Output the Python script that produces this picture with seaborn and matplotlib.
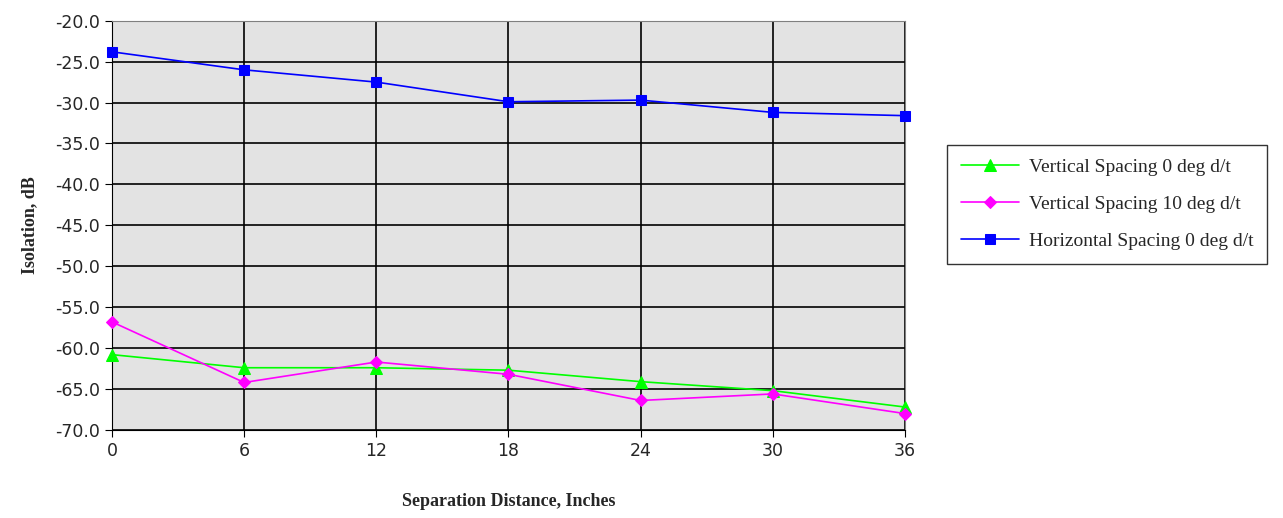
import seaborn as sns
import matplotlib.pyplot as plt
import pandas as pd

distance = [0, 6, 12, 18, 24, 30, 36]
vert_0 = [-60.8, -62.4, -62.4, -62.7, -64.1, -65.2, -67.2]
vert_10 = [-56.8, -64.2, -61.7, -63.2, -66.4, -65.6, -68.0]
horiz_0 = [-23.8, -26.0, -27.5, -29.9, -29.7, -31.2, -31.6]
series_names = ["Vertical Spacing 0 deg d/t", "Vertical Spacing 10 deg d/t",
                "Horizontal Spacing 0 deg d/t"]
y_ticks = [-20, -25, -30, -35, -40, -45, -50, -55, -60, -65, -70]

sns.set_style("white")

fig = plt.figure(figsize=(12.83, 5.18), dpi=100)
ax = fig.add_axes([0.0873, 0.170, 0.618, 0.790])
ax.set_facecolor("#e3e3e3")

styles = [("#00ff00", "^", 8), ("#ff00ff", "D", 6), ("#0000ff", "s", 7)]
for name, vals, (col, mk, ms) in zip(series_names, [vert_0, vert_10, horiz_0], styles):
    df = pd.DataFrame({"x": distance, "y": vals})
    sns.lineplot(data=df, x="x", y="y", ax=ax, color=col, marker=mk, markersize=ms,
                 markeredgecolor=col, linewidth=1.2, label=name, zorder=3, clip_on=False)

ax.set_xlim(0, 36)
ax.set_ylim(-70, -20)
ax.set_xticks(distance)
ax.set_yticks(y_ticks)
ax.set_yticklabels([f"{v:.1f}" for v in y_ticks])
ax.grid(True, color="black", linewidth=1.2)
ax.tick_params(axis="both", labelsize=12.5, length=5, color="black", direction="out",
               left=True, bottom=True)
for s in ax.spines.values():
    s.set_color("#808080")
ax.spines["left"].set_color("black")
ax.spines["bottom"].set_color("black")

ax.set_xlabel("Separation Distance, Inches", family="Liberation Serif", fontweight="bold",
              fontsize=13, labelpad=24)
ax.set_ylabel("Isolation, dB", family="Liberation Serif", fontweight="bold",
              fontsize=13, labelpad=12)

h, l = ax.get_legend_handles_labels()
ax.legend_.remove()
fig.legend(h, l, loc="center left", bbox_to_anchor=(0.7305, 0.606), frameon=True,
           fancybox=False, edgecolor="black", prop={"family": "Liberation Serif", "size": 14},
           handlelength=3.0, labelspacing=1.0, borderpad=0.7, handletextpad=0.5)

fig.savefig("out.png", dpi=100)
